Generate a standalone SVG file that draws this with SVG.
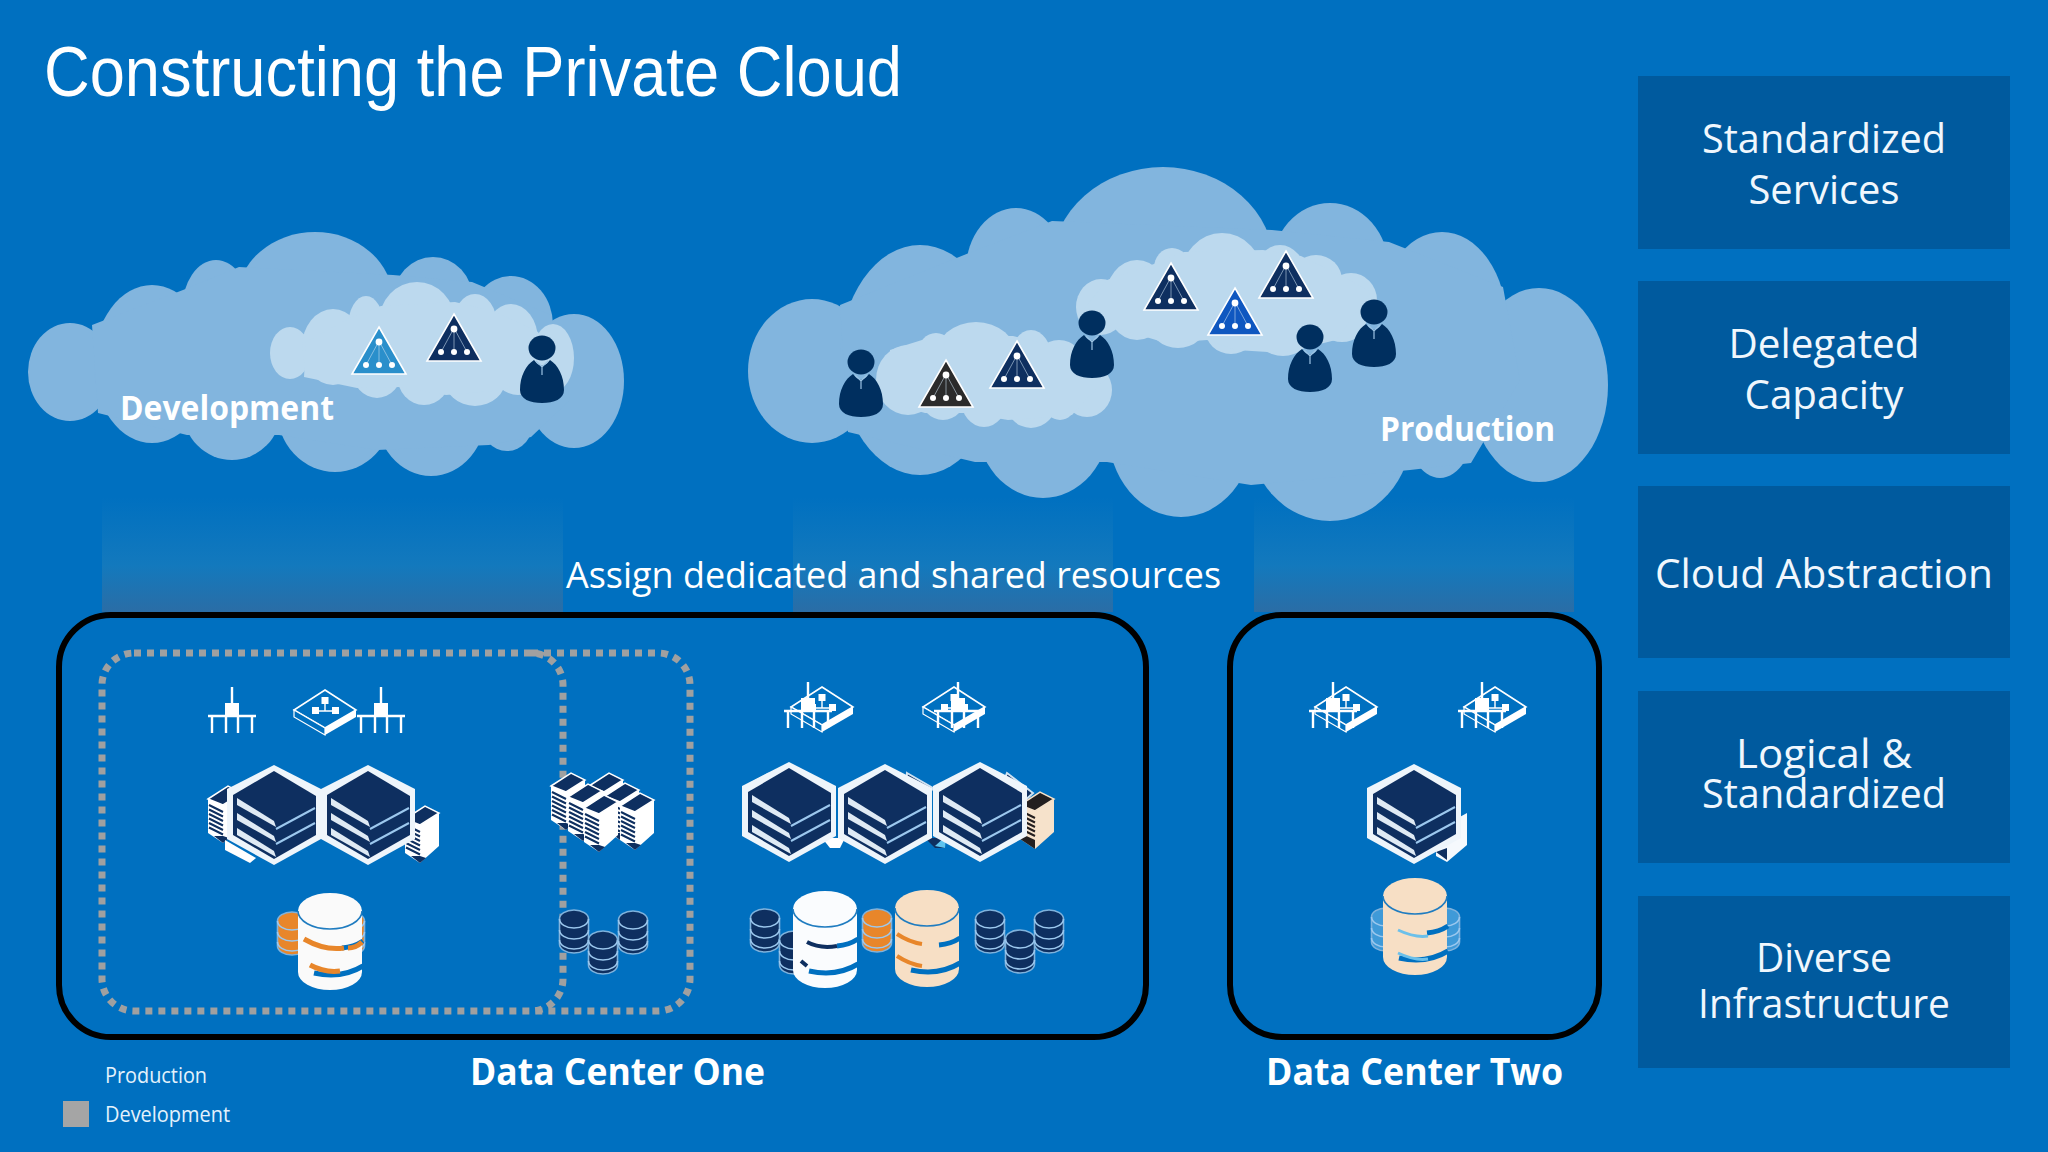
<svg xmlns="http://www.w3.org/2000/svg" width="2048" height="1152" viewBox="0 0 2048 1152">
<style>
text{font-family:"Open Sans","Noto Sans","Liberation Sans",sans-serif;fill:#fff}
.panel{fill:#005a9e}
.pt{font-size:41px;text-anchor:middle;fill:#f0f7fd}
.lab{font-size:34px;font-weight:700}
.dc{font-size:37px;font-weight:700}
.leg{font-size:22px;fill:#e4f2fc}
.outer ellipse,.outer polygon{fill:#82b5de}
.inner ellipse,.inner polygon{fill:#bcd9ee}
.box{fill:none;stroke:#000;stroke-width:6}
.dots{fill:none;stroke:#a0a0a0;stroke-width:7;stroke-dasharray:7 6}
.ln{stroke:#fff;stroke-width:2.4;fill:none}
.peek{fill:#0e2f60;stroke:#cfe3f3;stroke-width:2}
</style>
<defs>
<linearGradient id="col" x1="0" y1="0" x2="0" y2="1">
<stop offset="0" stop-color="#0070c0"/><stop offset=".6" stop-color="#1379bd"/><stop offset="1" stop-color="#2a6da6"/>
</linearGradient>
<g id="tri">
<polygon points="0,0 27,47 -27,47" fill="currentColor" stroke="#fff" stroke-width="1.6"/>
<path d="M0,14 L-13,38 M0,14 L0,38 M0,14 L13,38" stroke="#cfe3f3" stroke-width=".8" opacity=".7"/>
<g fill="#fff"><circle cx="0" cy="15" r="3.4"/><circle cx="-13" cy="38" r="3"/><circle cx="0" cy="38" r="3"/><circle cx="13" cy="38" r="3"/></g>
</g>
<g id="person">
<ellipse cx="0" cy="0" rx="13.5" ry="12.5" fill="#002f5f"/>
<path d="M-8,12 C-16,17 -22,28 -22,42 C-22,51 -12,55 0,55 C12,55 22,51 22,42 C22,28 16,17 8,12 C5,16 3,17 0,18 C-3,17 -5,16 -8,12Z" fill="#002f5f"/>
<path d="M-6,13 L0,19 L6,13 M0,19 V27" stroke="#9cc4e4" stroke-width="1.2" fill="none"/>
</g>
<g id="antenna">
<path class="ln" d="M0,0 V17 M-24,29 H24 M-20,29 V46 M-6,29 V46 M6,29 V46 M20,29 V46"/>
<rect x="-7" y="16" width="14" height="12" fill="#fff"/>
</g>
<g id="switch">
<polygon points="0,0 31,20 0,38 -31,20" fill="#0070c0" stroke="#fff" stroke-width="1.6"/>
<polygon points="0,38 31,20 31,27 0,45" fill="#fff"/>
<polygon points="-31,20 -31,27 0,45 0,38" fill="#0070c0" stroke="#fff" stroke-width="1.2"/>
<path d="M0,11 V21 M-10,21 H10" stroke="#fff" stroke-width="1.4"/>
<rect x="-3.5" y="7" width="7" height="7" fill="#fff"/><rect x="-13" y="17" width="7" height="7" fill="#fff"/><rect x="7" y="17" width="7" height="7" fill="#fff"/>
</g>
<g id="hex">
<polygon points="0,-50 47,-26 47,24 0,50 -47,24 -47,-26" fill="#eef5fb"/>
<polygon points="0,-44 42,-19 42,20 0,44 -41,20 -41,-20" fill="#0e2f60"/>
<g fill="#dfeaf4"><polygon points="-37,-17 0,6 2,12 -37,-10"/><polygon points="-37,-2 0,21 2,27 -37,5"/><polygon points="-37,13 0,36 2,42 -37,20"/></g>
<path d="M2,14 L41,-7 M2,29 L41,8" stroke="#9cc8ee" stroke-width="2"/>
</g>
<g id="tower">
<polygon points="0,13 15,19 15,57 0,47" fill="#fff"/>
<polygon points="15,19 34,7 34,40 15,57" fill="currentColor"/>
<polygon points="0,13 20,0 34,7 15,19" fill="#0e2f60" stroke="#fff" stroke-width="1.5"/>
<path d="M1,19 L15,26 M1,23.500 L15,30.500 M1,28 L15,35 M1,32.500 L15,39.500 M1,37 L15,44 M1,41.500 L15,48.500" stroke="#0e2f60" stroke-width="2"/>
<polygon points="6,50 15,50 21,52 15,57" fill="#0e2f60"/>
</g>
<g id="towerc">
<polygon points="0,13 15,19 15,57 0,47" fill="#f6e2cb"/>
<polygon points="15,19 34,7 34,40 15,57" fill="#f6e2cb"/>
<polygon points="0,13 20,0 34,7 15,19" fill="#231f20" stroke="#f6e2cb" stroke-width="1.5"/>
<path d="M1,19 L15,26 M1,23.500 L15,30.500 M1,28 L15,35 M1,32.500 L15,39.500 M1,37 L15,44" stroke="#231f20" stroke-width="2"/>
<polygon points="0,41 15,48 15,57 0,47" fill="#231f20"/>
</g>
<g id="cyl">
<path d="M-14.500,9 A14.500,9 0 0 1 14.500,9 V34 A14.500,9 0 0 1 -14.500,34Z" fill="currentColor" stroke="#7fb2dc" stroke-width="1.6"/>
<path d="M-14.500,9 A14.500,9 0 0 0 14.500,9 M-14.500,20 A14.500,9 0 0 0 14.500,20 M-14.500,30 A14.500,9 0 0 0 14.500,30" fill="none" stroke="#9cc8ee" stroke-width="1.6"/>
</g>
<g id="bigdb">
<path d="M-32,18 A32,18 0 0 1 32,18 V79 A32,18 0 0 1 -32,79Z" fill="currentColor"/>
<path d="M-32,18 A32,18 0 0 0 32,18" fill="none" stroke="#1f7cc0" stroke-width="1.6"/>
<path d="M12,55 Q24,54 33,48 M-16,80 Q12,86 33,73" fill="none" stroke="#0070c0" stroke-width="5"/>
</g>
</defs>
<rect id="background" width="2048" height="1152" fill="#0070c0"/>
<g id="columns">
<rect x="102" y="497" width="461" height="115" fill="url(#col)"/>
<rect x="793" y="497" width="320" height="115" fill="url(#col)"/>
<rect x="1254" y="497" width="320" height="115" fill="url(#col)"/>
</g>
<text id="title" x="44" y="96" font-size="70" textLength="858" lengthAdjust="spacingAndGlyphs" style="font-family:'Liberation Sans',Arial,sans-serif">Constructing the Private Cloud</text>
<g id="cloud-development">
<g class="outer">
<ellipse cx="70" cy="372" rx="42" ry="49"/><ellipse cx="152" cy="364" rx="58" ry="79"/><ellipse cx="216" cy="310" rx="34" ry="50"/><ellipse cx="315" cy="300" rx="78" ry="68"/><ellipse cx="433" cy="300" rx="40" ry="43"/><ellipse cx="511" cy="325" rx="42" ry="49"/><ellipse cx="574" cy="381" rx="50" ry="67"/><ellipse cx="232" cy="410" rx="49" ry="50"/><ellipse cx="335" cy="410" rx="58" ry="62"/><ellipse cx="431" cy="410" rx="56" ry="66"/><ellipse cx="507" cy="420" rx="27" ry="31"/>
<polygon points="92,325 183,290 239,267 393,275 472,282 551,315 570,400 531,437 489,445 377,450 279,435 187,435 98,413"/>
</g>
<g class="inner">
<ellipse cx="290" cy="353" rx="20" ry="26"/><ellipse cx="333" cy="347" rx="31" ry="38"/><ellipse cx="366" cy="327" rx="18" ry="31"/><ellipse cx="417" cy="322" rx="38" ry="40"/><ellipse cx="475" cy="325" rx="22" ry="31"/><ellipse cx="511" cy="340" rx="27" ry="36"/><ellipse cx="553" cy="358" rx="21" ry="34"/><ellipse cx="377" cy="370" rx="25" ry="28"/><ellipse cx="424" cy="375" rx="27" ry="30"/><ellipse cx="475" cy="378" rx="31" ry="28"/><ellipse cx="518" cy="370" rx="25" ry="25"/>
<polygon points="306,342 350,318 381,306 455,302 496,312 538,332 555,360 504,390 446,395 400,387 357,388 304,377"/>
</g>
<use href="#tri" x="379" y="327" style="color:#2a8fcb"/>
<use href="#tri" x="454" y="314" style="color:#0e2f60"/>
<use href="#person" x="542" y="348"/>
<text class="lab" x="120" y="420" textLength="214" lengthAdjust="spacingAndGlyphs">Development</text>
</g>
<g id="cloud-production">
<g class="outer">
<ellipse cx="812" cy="371" rx="64" ry="72"/><ellipse cx="920" cy="360" rx="80" ry="115"/><ellipse cx="1016" cy="270" rx="50" ry="62"/><ellipse cx="1163" cy="265" rx="111" ry="98"/><ellipse cx="1330" cy="270" rx="59" ry="67"/><ellipse cx="1442" cy="325" rx="65" ry="93"/><ellipse cx="1539" cy="385" rx="69" ry="97"/><ellipse cx="1043" cy="420" rx="67" ry="78"/><ellipse cx="1181" cy="430" rx="73" ry="87"/><ellipse cx="1330" cy="430" rx="82" ry="91"/><ellipse cx="1440" cy="420" rx="35" ry="58"/>
<polygon points="840,305 969,253 1052,221 1272,230 1389,242 1503,287 1520,380 1471,463 1410,470 1251,485 1107,462 975,462 848,432"/>
</g>
<g class="inner">
<ellipse cx="908" cy="380" rx="32" ry="35"/><ellipse cx="936" cy="353" rx="18" ry="20"/><ellipse cx="976" cy="357" rx="41" ry="35"/><ellipse cx="1031" cy="360" rx="21" ry="30"/><ellipse cx="1059" cy="367" rx="26" ry="27"/><ellipse cx="1087" cy="390" rx="25" ry="27"/><ellipse cx="943" cy="395" rx="23" ry="25"/><ellipse cx="984" cy="400" rx="23" ry="27"/><ellipse cx="1031" cy="400" rx="26" ry="28"/><ellipse cx="1060" cy="405" rx="15" ry="15"/>
<polygon points="890,350 922,340 946,336 1013,336 1049,345 1075,352 1107,377 1072,415 1054,417 1008,420 966,413 925,413 890,403"/>
<ellipse cx="1101" cy="307" rx="25" ry="28"/><ellipse cx="1137" cy="300" rx="32" ry="40"/><ellipse cx="1172" cy="268" rx="18" ry="20"/><ellipse cx="1222" cy="277" rx="41" ry="44"/><ellipse cx="1280" cy="277" rx="26" ry="32"/><ellipse cx="1316" cy="280" rx="26" ry="25"/><ellipse cx="1351" cy="300" rx="26" ry="27"/><ellipse cx="1178" cy="322" rx="29" ry="26"/><ellipse cx="1231" cy="329" rx="26" ry="25"/><ellipse cx="1283" cy="330" rx="29" ry="26"/><ellipse cx="1342" cy="322" rx="24" ry="20"/>
<polygon points="1107,280 1154,264 1184,252 1263,250 1301,256 1342,276 1371,292 1336,340 1283,353 1236,350 1207,340 1166,343 1113,327 1081,313"/>
</g>
<use href="#tri" x="946" y="360" style="color:#2b2b2b"/>
<use href="#tri" x="1017" y="341" style="color:#0e2f60"/>
<use href="#tri" x="1171" y="263" style="color:#0e2f60"/>
<use href="#tri" x="1235" y="288" style="color:#0f57c0"/>
<use href="#tri" x="1286" y="251" style="color:#0e2f60"/>
<use href="#person" x="861" y="362"/>
<use href="#person" x="1092" y="323"/>
<use href="#person" x="1310" y="337"/>
<use href="#person" x="1374" y="312"/>
<text class="lab" x="1380" y="441" textLength="175" lengthAdjust="spacingAndGlyphs">Production</text>
</g>
<text id="assign" x="566" y="588" font-size="37" textLength="655" lengthAdjust="spacingAndGlyphs">Assign dedicated and shared resources</text>
<g id="data-center-one">
<rect class="box" x="59" y="615" width="1087" height="422" rx="52"/>
<rect class="dots" x="102" y="653" width="461" height="358" rx="32"/>
<path class="dots" d="M531,653 H658 A32,32 0 0 1 690,685 V979 A32,32 0 0 1 658,1011 H531"/>
<use href="#antenna" x="232" y="687"/>
<use href="#switch" x="325" y="690"/>
<use href="#antenna" x="381" y="687"/>
<use href="#tower" x="208" y="786" style="color:#fff"/>
<use href="#tower" x="405" y="806" style="color:#fff"/>
<polygon points="225,840 256,858 250,863 225,850" fill="#fff"/>
<use href="#hex" x="274" y="815"/>
<use href="#hex" x="368" y="815"/>
<use href="#cyl" x="292" y="912" style="color:#e8862a"/>
<use href="#cyl" x="350" y="912" style="color:#e8862a"/>
<use href="#bigdb" x="330" y="893" style="color:#fafafa"/>
<path d="M304,939 Q325,951 344,948 M310,965 Q325,973 340,971 M348,948 Q356,948 362,942" fill="none" stroke="#e8862a" stroke-width="5"/>
<use href="#tower" x="589" y="773" style="color:#fff"/>
<use href="#tower" x="605" y="783" style="color:#fff"/>
<use href="#tower" x="551" y="773" style="color:#fff"/>
<use href="#tower" x="568" y="784" style="color:#fff"/>
<use href="#tower" x="584" y="795" style="color:#fff"/>
<use href="#tower" x="620" y="793" style="color:#fff"/>
<use href="#cyl" x="574" y="910" style="color:#0e2f60"/>
<use href="#cyl" x="603" y="931" style="color:#0e2f60"/>
<use href="#cyl" x="633" y="911" style="color:#0e2f60"/>
<use href="#switch" x="822" y="687"/>
<use href="#antenna" x="808" y="682"/>
<use href="#switch" x="954" y="687"/>
<use href="#antenna" x="958" y="682"/>
<polygon points="748,785 768,774 775,790 755,800" class="peek"/>
<polygon points="907,773 933,788 925,800 905,790" class="peek"/>
<polygon points="1007,773 1033,793 1020,805 1000,790" class="peek"/>
<polygon points="822,838 845,838 840,848 830,848" fill="#fff"/>
<polygon points="925,838 942,838 945,848 935,848" fill="#0e2f60"/>
<polygon points="935,846 946,836 945,848" fill="#5fc4ef"/>
<use href="#towerc" x="1020" y="792"/>
<use href="#hex" x="789" y="812"/>
<use href="#hex" x="885" y="814"/>
<use href="#hex" x="980" y="812"/>
<use href="#cyl" x="765" y="909" style="color:#0e2f60"/>
<use href="#cyl" x="794" y="931" style="color:#0e2f60"/>
<use href="#cyl" x="877" y="909" style="color:#e8862a"/>
<use href="#bigdb" x="825" y="891" style="color:#fafcfe"/>
<path d="M807,942 Q820,949 837,946 M801,961 L807,966" fill="none" stroke="#0e2f60" stroke-width="4"/>
<use href="#bigdb" x="927" y="890" style="color:#f7dfc5"/>
<path d="M897,934 Q909,942 922,944 M897,956 Q909,964 922,966" fill="none" stroke="#e8862a" stroke-width="4"/>
<use href="#cyl" x="990" y="910" style="color:#0e2f60"/>
<use href="#cyl" x="1020" y="930" style="color:#0e2f60"/>
<use href="#cyl" x="1049" y="910" style="color:#0e2f60"/>
<text class="dc" x="470" y="1085" textLength="295" lengthAdjust="spacingAndGlyphs">Data Center One</text>
</g>
<g id="data-center-two">
<rect class="box" x="1230" y="615" width="369" height="422" rx="52"/>
<use href="#switch" x="1346" y="687"/>
<use href="#antenna" x="1333" y="682"/>
<use href="#switch" x="1495" y="687"/>
<use href="#antenna" x="1482" y="682"/>
<polygon points="1436,830 1467,813 1467,845 1447,862 1436,856" fill="#f5f9fd"/>
<polygon points="1436,852 1447,848 1447,860" fill="#0e2f60"/>
<use href="#hex" x="1414" y="814"/>
<use href="#cyl" x="1386" y="908" style="color:#3f9ad8"/>
<use href="#cyl" x="1445" y="908" style="color:#3f9ad8"/>
<use href="#bigdb" x="1415" y="878" style="color:#f7dfc5"/>
<path d="M1398,930 Q1415,938 1428,936 M1398,953 Q1415,961 1428,959" fill="none" stroke="#6cc0ea" stroke-width="3"/>
<text class="dc" x="1266" y="1085" textLength="297" lengthAdjust="spacingAndGlyphs">Data Center Two</text>
</g>
<g id="panel-standardized-services"><rect class="panel" x="1638" y="76" width="372" height="173"/>
<text class="pt" x="1824" y="153" textLength="244" lengthAdjust="spacingAndGlyphs">Standardized</text><text class="pt" x="1824" y="204" textLength="151" lengthAdjust="spacingAndGlyphs">Services</text></g>
<g id="panel-delegated-capacity"><rect class="panel" x="1638" y="281" width="372" height="173"/>
<text class="pt" x="1824" y="358" textLength="191" lengthAdjust="spacingAndGlyphs">Delegated</text><text class="pt" x="1824" y="409" textLength="159" lengthAdjust="spacingAndGlyphs">Capacity</text></g>
<g id="panel-cloud-abstraction"><rect class="panel" x="1638" y="486" width="372" height="172"/>
<text class="pt" x="1824" y="588" textLength="338" lengthAdjust="spacingAndGlyphs">Cloud Abstraction</text></g>
<g id="panel-logical-standardized"><rect class="panel" x="1638" y="691" width="372" height="172"/>
<text class="pt" x="1824" y="768" textLength="176" lengthAdjust="spacingAndGlyphs">Logical &amp;</text><text class="pt" x="1824" y="808" textLength="244" lengthAdjust="spacingAndGlyphs">Standardized</text></g>
<g id="panel-diverse-infrastructure"><rect class="panel" x="1638" y="896" width="372" height="172"/>
<text class="pt" x="1824" y="972" textLength="136" lengthAdjust="spacingAndGlyphs">Diverse</text><text class="pt" x="1824" y="1018" textLength="252" lengthAdjust="spacingAndGlyphs">Infrastructure</text></g>
<g id="legend">
<text class="leg" x="105" y="1083" textLength="102" lengthAdjust="spacingAndGlyphs">Production</text>
<rect x="63" y="1101" width="26" height="26" fill="#a5a5a5"/>
<text class="leg" x="105" y="1122" textLength="125" lengthAdjust="spacingAndGlyphs">Development</text>
</g>
</svg>
